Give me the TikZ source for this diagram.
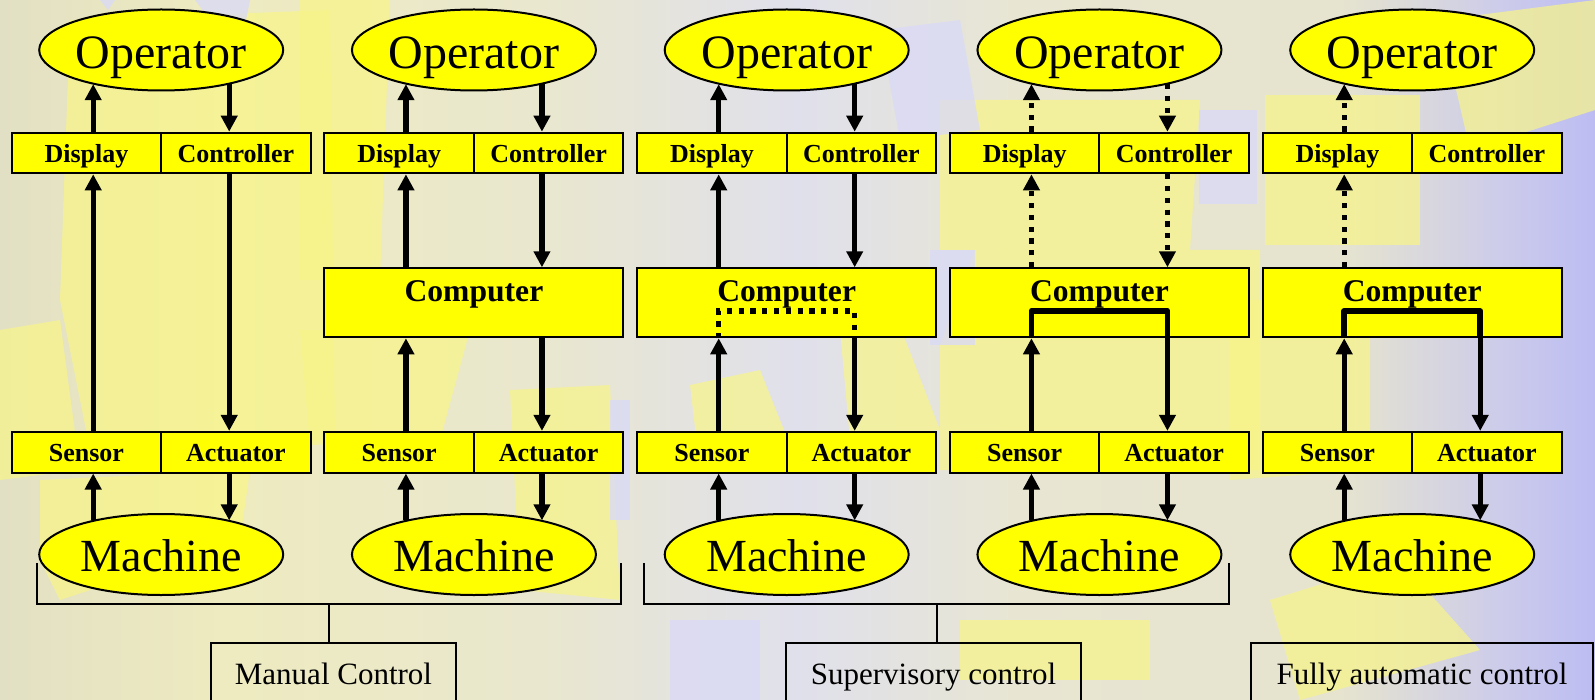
\documentclass[tikz,border=0pt]{standalone}
\usepackage{fontspec}
\setmainfont{Liberation Serif}
\usetikzlibrary{arrows.meta,shapes.geometric,calc}

\definecolor{boxyellow}{RGB}{255,255,0}
\definecolor{bgA}{RGB}{226,224,196}
\definecolor{bgB}{RGB}{238,235,192}
\definecolor{bgC}{RGB}{233,231,206}
\definecolor{bgD}{RGB}{224,224,236}
\definecolor{bgE}{RGB}{232,230,210}
\definecolor{bgG}{RGB}{230,228,206}
\definecolor{bgH}{RGB}{205,204,234}
\definecolor{bgF}{RGB}{188,188,243}
\definecolor{patchyellow}{RGB}{248,245,135}
\definecolor{patchlilac}{RGB}{218,218,246}

% backdrop: warm beige on the left, greyish lilac in the middle, blue lilac at the right edge
\pgfdeclarehorizontalshading{backdrop}{100bp}{color(0bp)=(bgA); color(25bp)=(bgA);
  color(32bp)=(bgB); color(42bp)=(bgC); color(50bp)=(bgD); color(57bp)=(bgE);
  color(67bp)=(bgG); color(72bp)=(bgH); color(75bp)=(bgF); color(100bp)=(bgF)}

\begin{document}
\begin{tikzpicture}[x=0.5pt,y=-0.5pt,
  cell/.style={draw, line width=1pt, fill=boxyellow, minimum width=74.75pt,
    minimum height=20.3pt, inner sep=0pt, font=\bfseries\fontsize{13}{15}\selectfont,
    text height=9.5pt, text depth=0pt},
  comp/.style={draw, line width=1pt, fill=boxyellow, minimum width=149.5pt,
    minimum height=34.5pt, inner sep=0pt, font=\bfseries\fontsize{15.8}{18}\selectfont,
    text height=10pt, text depth=11pt},
  oval/.style={ellipse, draw, line width=1pt, fill=boxyellow, minimum width=122pt,
    minimum height=40.5pt, inner sep=0pt},
  opfont/.style={font=\fontsize{24}{28}\selectfont, text height=19pt, text depth=0pt},
  mafont/.style={font=\fontsize{23}{27}\selectfont, text height=17.2pt, text depth=0pt},
  lbl/.style={draw, line width=1pt, anchor=north, minimum height=35pt, inner sep=0pt,
    font=\fontsize{15.5}{18}\selectfont, text height=10.6pt, text depth=4pt},
  arr/.style={line width=2.6pt, -{Triangle[length=8pt,width=8pt]}},
  dotted arr/.style={arr, dash pattern=on 2.6pt off 3.3pt},
  loopsolid/.style={line width=2.9pt, line join=round},
  loopdots/.style={line width=2.6pt, dash pattern=on 2.6pt off 3.3pt},
  bracket/.style={line width=1pt},
  ypatch/.style={fill=patchyellow, fill opacity=0.7},
  lpatch/.style={fill=patchlilac, fill opacity=0.8}]

\useasboundingbox (0,0) rectangle (1595,700);

% background
\shade[shading=backdrop] (0,0) rectangle (1595,700);
\path[ypatch] (70,20) -- (330,10) -- (335,440) -- (90,450) -- (60,300) -- cycle;
\path[ypatch] (0,330) -- (60,320) -- (80,470) -- (0,480) -- cycle;
\path[ypatch] (40,480) -- (250,470) -- (240,540) -- (60,600) -- (40,560) -- cycle;
\path[ypatch] (300,0) -- (390,0) -- (380,280) -- (300,280) -- cycle;
\path[ypatch] (300,330) -- (470,330) -- (440,440) -- (310,445) -- cycle;
\path[ypatch] (510,390) -- (610,385) -- (620,600) -- (520,590) -- cycle;
\path[ypatch] (690,385) -- (760,370) -- (800,470) -- (700,470) -- cycle;
\path[ypatch] (840,330) -- (890,300) -- (940,430) -- (850,440) -- cycle;
\path[ypatch] (940,100) -- (1200,100) -- (1190,250) -- (940,250) -- cycle;
\path[ypatch] (975,250) -- (1260,250) -- (1260,470) -- (940,470) -- (940,345) -- cycle;
\path[ypatch] (1265,95) -- (1420,95) -- (1420,245) -- (1265,245) -- cycle;
\path[ypatch] (1440,20) -- (1595,0) -- (1595,110) -- (1470,150) -- cycle;
\path[ypatch] (1230,300) -- (1370,300) -- (1370,470) -- (1230,480) -- cycle;
\path[ypatch] (960,620) -- (1150,620) -- (1150,680) -- (960,680) -- cycle;
\path[ypatch] (1270,600) -- (1400,560) -- (1480,650) -- (1300,700) -- cycle;
\path[lpatch] (100,0) -- (115,0) -- (108,10) -- cycle;
\path[lpatch] (195,0) -- (250,0) -- (245,25) -- (210,20) -- cycle;
\path[lpatch] (880,30) -- (960,20) -- (980,130) -- (900,140) -- cycle;
\path[lpatch] (1199,110) -- (1257,110) -- (1257,204) -- (1199,204) -- cycle;
\path[lpatch] (930,250) -- (975,250) -- (975,345) -- (930,345) -- cycle;
\path[lpatch] (670,620) -- (760,620) -- (760,700) -- (670,700) -- cycle;
\path[lpatch] (610,400) -- (630,400) -- (630,520) -- (610,520) -- cycle;

% the five control loops share the same frame
\foreach \k/\cx in {1/161.2, 2/473.95, 3/786.7, 4/1099.45, 5/1412.2}{
  \node[oval, opfont] (op\k) at (\cx,50) {Operator};
  \node[cell] (disp\k) at (\cx-74.75,153) {Display};
  \node[cell] (ctrl\k) at (\cx+74.75,153) {Controller};
  \node[cell] (sens\k) at (\cx-74.75,452.2) {Sensor};
  \node[cell] (act\k) at (\cx+74.75,452.2) {Actuator};
  \node[oval, mafont] (mach\k) at (\cx,554.5) {Machine};
  \coordinate (xl\k) at (\cx-68,0);
  \coordinate (xr\k) at (\cx+68,0);
  \draw[arr] (xl\k |- mach\k.154) -- (xl\k |- sens\k.south);
  \draw[arr] (xr\k |- act\k.south) -- (xr\k |- mach\k.26);
}

\foreach \k/\cx in {2/473.95, 3/786.7, 4/1099.45, 5/1412.2}{
  \node[comp] (comp\k) at (\cx,302.8) {Computer};
  \coordinate (lp\k) at (\cx,311);
  \draw[arr] (xl\k |- sens\k.north) -- (xl\k |- comp\k.south);
  \draw[arr] (xr\k |- comp\k.south) -- (xr\k |- act\k.north);
}

% manual control
\draw[arr] (xl1 |- disp1.north) -- (xl1 |- op1.206);
\draw[arr] (xr1 |- op1.334) -- (xr1 |- ctrl1.north);
\draw[arr] (xl1 |- sens1.north) -- (xl1 |- disp1.south);
\draw[arr] (xr1 |- ctrl1.south) -- (xr1 |- act1.north);

% operator in the loop through the computer
\foreach \k in {2,3}{
  \draw[arr] (xl\k |- disp\k.north) -- (xl\k |- op\k.206);
  \draw[arr] (xr\k |- op\k.334) -- (xr\k |- ctrl\k.north);
  \draw[arr] (xl\k |- comp\k.north) -- (xl\k |- disp\k.south);
  \draw[arr] (xr\k |- ctrl\k.south) -- (xr\k |- comp\k.north);
}
\draw[loopdots] (xl3 |- comp3.south) -- (xl3 |- lp3) -- (xr3 |- lp3) -- (xr3 |- comp3.south);

% supervisory: operator links are occasional
\draw[dotted arr] (xl4 |- disp4.north) -- (xl4 |- op4.206);
\draw[dotted arr] (xr4 |- op4.334) -- (xr4 |- ctrl4.north);
\draw[dotted arr] (xl4 |- comp4.north) -- (xl4 |- disp4.south);
\draw[dotted arr] (xr4 |- ctrl4.south) -- (xr4 |- comp4.north);
\draw[loopsolid] (xl4 |- comp4.south) -- (xl4 |- lp4) -- (xr4 |- lp4) -- (xr4 |- comp4.south);

% fully automatic: operator only watches
\draw[dotted arr] (xl5 |- disp5.north) -- (xl5 |- op5.206);
\draw[dotted arr] (xl5 |- comp5.north) -- (xl5 |- disp5.south);
\draw[loopsolid] (xl5 |- comp5.south) -- (xl5 |- lp5) -- (xr5 |- lp5) -- (xr5 |- comp5.south);

% category labels
\node[lbl, minimum width=122.5pt] (lab1) at (333.5,641.7) {Manual Control};
\node[lbl, minimum width=147.5pt] (lab2) at (933.5,641.7) {Supervisory control};
\node[lbl, minimum width=171pt] (lab3) at (1422,641.7) {Fully automatic control};

\coordinate (br1a) at (36.5,563);
\coordinate (br1b) at (620.5,563);
\coordinate (br1m) at (328.5,603.5);
\draw[bracket] (br1a) |- (br1m) -| (br1b);
\draw[bracket] (br1m) -- (br1m |- lab1.north);

\coordinate (br2a) at (643.8,563);
\coordinate (br2b) at (1229.2,563);
\coordinate (br2m) at (936.5,603.5);
\draw[bracket] (br2a) |- (br2m) -| (br2b);
\draw[bracket] (br2m) -- (br2m |- lab2.north);
\end{tikzpicture}
\end{document}
